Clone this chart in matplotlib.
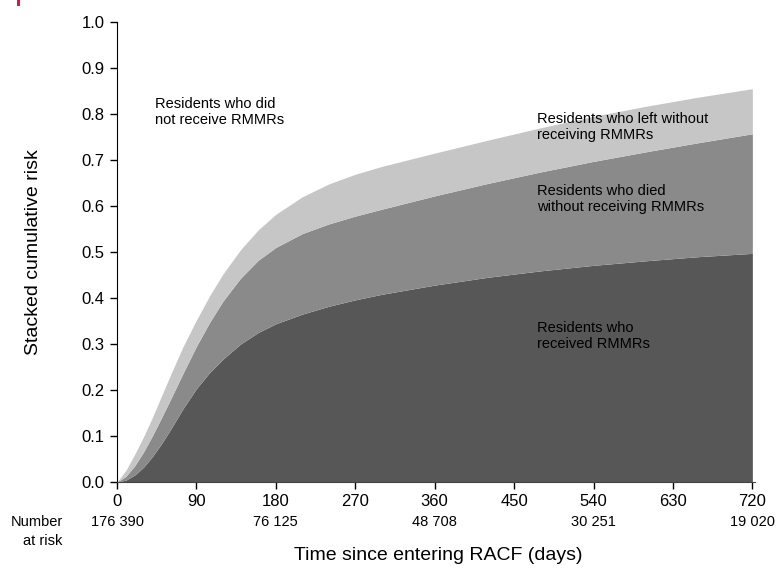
import matplotlib
matplotlib.use("Agg")
import matplotlib.pyplot as plt
from matplotlib.patches import Rectangle
import numpy as np

plt.rcParams['font.family'] = ['Liberation Sans', 'DejaVu Sans']

# Data
days = [0, 10, 20, 30, 40, 50, 60, 75, 90, 105, 120, 140, 160, 180, 210, 240, 270, 300, 360, 420, 480, 540, 600, 660, 720]
received = [0, 0.004, 0.015, 0.032, 0.055, 0.082, 0.112, 0.16, 0.203, 0.238, 0.267, 0.30, 0.325, 0.344, 0.365, 0.382, 0.396, 0.408, 0.428, 0.445, 0.459, 0.471, 0.481, 0.490, 0.497]
died_stacked = [0, 0.012, 0.035, 0.065, 0.10, 0.138, 0.177, 0.237, 0.295, 0.347, 0.393, 0.443, 0.482, 0.51, 0.54, 0.561, 0.578, 0.593, 0.622, 0.649, 0.674, 0.697, 0.718, 0.738, 0.757]
left_stacked = [0, 0.025, 0.06, 0.098, 0.14, 0.185, 0.23, 0.295, 0.352, 0.405, 0.452, 0.505, 0.548, 0.582, 0.62, 0.648, 0.669, 0.686, 0.715, 0.743, 0.77, 0.795, 0.817, 0.837, 0.855]

xticks = [0, 90, 180, 270, 360, 450, 540, 630, 720]
yticks = [0.0, 0.1, 0.2, 0.3, 0.4, 0.5, 0.6, 0.7, 0.8, 0.9, 1.0]
risk_days = [0, 180, 360, 540, 720]
risk_labels = ["176 390", "76 125", "48 708", "30 251", "19 020"]

col_dark = "#575757"
col_mid = "#8a8a8a"
col_light = "#c6c6c6"

fig = plt.figure(figsize=(7.84, 5.68), dpi=100)
ax = fig.add_axes([117/784, 1-482/568, 638/784, 460/568])

zeros = np.zeros(len(days))
ax.fill_between(days, zeros, received, color=col_dark, lw=0)
ax.fill_between(days, received, died_stacked, color=col_mid, lw=0)
ax.fill_between(days, died_stacked, left_stacked, color=col_light, lw=0)

ax.set_xlim(0, 723)
ax.set_ylim(0, 1.0)
ax.set_xticks(xticks)
ax.set_yticks(yticks)
ax.set_yticklabels([f"{v:.1f}" for v in yticks])
ax.spines['top'].set_visible(False)
ax.spines['right'].set_visible(False)
ax.spines['bottom'].set_color("#444444")
ax.tick_params(direction='out', length=5, width=1, labelsize=12, pad=4)

ax.set_ylabel("Stacked cumulative risk", fontsize=14)
ax.yaxis.set_label_coords(-0.117, 0.5)
ax.set_xlabel("Time since entering RACF (days)", fontsize=14)
ax.xaxis.set_label_coords(0.503, -0.142)

tr = ax.get_xaxis_transform()
for d, lab in zip(risk_days, risk_labels):
    ax.text(d, -0.087, lab, transform=tr, ha='center', va='center', fontsize=10.5)
ax.text(-0.085, -0.087, "Number", transform=ax.transAxes, ha='right', va='center', fontsize=10.5)
ax.text(-0.085, -0.129, "at risk", transform=ax.transAxes, ha='right', va='center', fontsize=10.5)

fs = 10.5
ls = 1.2
ax.text(43, 0.837, "Residents who did\nnot receive RMMRs", ha='left', va='top', fontsize=fs, linespacing=ls)
ax.text(476, 0.804, "Residents who left without\nreceiving RMMRs", ha='left', va='top', fontsize=fs, linespacing=ls)
ax.text(476, 0.648, "Residents who died\nwithout receiving RMMRs", ha='left', va='top', fontsize=fs, linespacing=ls)
ax.text(476, 0.35, "Residents who\nreceived RMMRs", ha='left', va='top', fontsize=fs, linespacing=ls)

# small red mark at the top-left corner of the reference
fig.patches.append(Rectangle((17/784, 1-6/568), 3/784, 6/568, transform=fig.transFigure,
                             color='#d6164f', lw=0))

fig.savefig("out.png", dpi=100)
